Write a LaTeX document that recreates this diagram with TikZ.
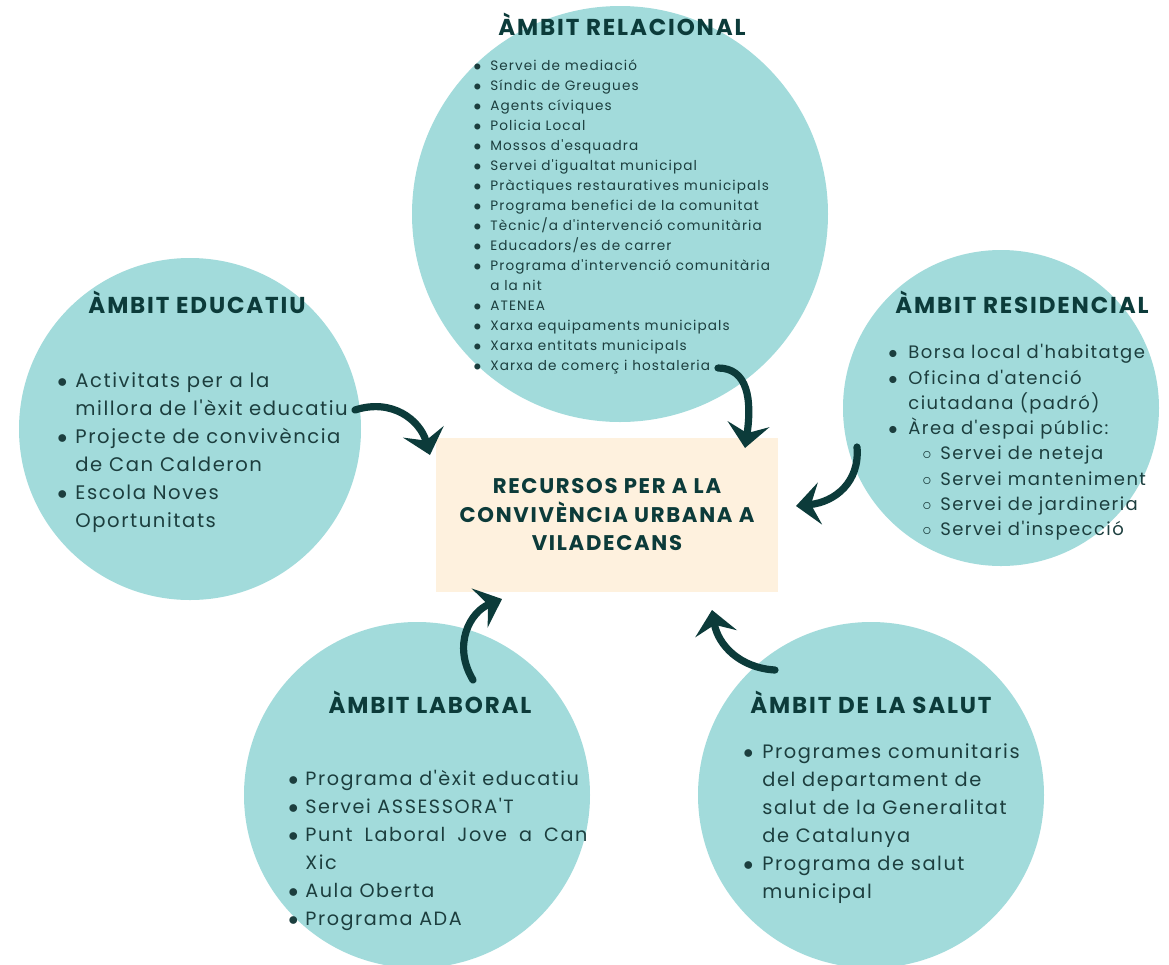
\documentclass[tikz,border=0pt]{standalone}
\usepackage{fontspec}
\setmainfont{Poppins}[LetterSpace=8, Ligatures=TeXOff]
\newfontfamily\headfont{Poppins}[LetterSpace=8, Ligatures=TeXOff]
\usetikzlibrary{arrows.meta}
\definecolor{circteal}{RGB}{162,219,219}
\definecolor{darkteal}{RGB}{12,59,58}
\definecolor{bodyteal}{RGB}{28,62,62}
\definecolor{boxcream}{RGB}{254,241,222}

\newlength\bulw
\setlength\bulw{9pt}
\newcommand\itm[1]{\makebox[\bulw][l]{$\bullet$}#1}
\newcommand\cnt[1]{\hspace*{\bulw}#1}
\newcommand\sub[1]{\hspace*{17pt}\makebox[9pt][l]{$\circ$}#1}

\begin{document}
\begin{tikzpicture}[x=0.5pt, y=-0.5pt,
  circ/.style={circle, fill=circteal, inner sep=0pt},
  ambit/.style={text=darkteal, anchor=base, inner sep=0pt, font=\headfont\bfseries\fontsize{11.5}{13}\selectfont},
  llista/.style={text=bodyteal, align=left, inner sep=0pt, anchor=north west},
  fletxa/.style={draw=darkteal, line width=3.6pt, line cap=round, -{Stealth[length=12pt,width=21pt,inset=4.5pt]}}]

% Background
\useasboundingbox (0,0) rectangle (1169,965);
\fill[white] (0,0) rectangle (1169,965);

% Circles
\node[circ, minimum size=208pt] (relacional) at (620,214) {};
\node[circ, minimum size=171pt] (educatiu) at (190,429) {};
\node[circ, minimum size=158pt] (residencial) at (1001,408) {};
\node[circ, minimum size=173pt] (laboral) at (417,795) {};
\node[circ, minimum size=173pt] (salut) at (871,795) {};

% Central box
\node[fill=boxcream, minimum width=171pt, minimum height=77pt, align=center,
      text=darkteal, font=\headfont\bfseries\fontsize{10.6}{14.25}\selectfont] (recursos) at (607,515)
  {RECURSOS PER A LA\\CONVIVÈNCIA URBANA A\\VILADECANS};

% Titles
\node[ambit] (t-relacional) at (622,35) {ÀMBIT RELACIONAL};
\node[ambit] (t-educatiu) at (197,313) {ÀMBIT EDUCATIU};
\node[ambit] (t-residencial) at (1022,313) {ÀMBIT RESIDENCIAL};
\node[ambit] (t-laboral) at (430,713) {ÀMBIT LABORAL};
\node[ambit] (t-salut) at (871,713) {ÀMBIT DE LA SALUT};

% Lists
\node[llista, font=\fontsize{6.8}{10}\selectfont\setlength\bulw{8.5pt}] (l-relacional) at (473,59) {%
  \itm{Servei de mediació}\\
  \itm{Síndic de Greugues}\\
  \itm{Agents cíviques}\\
  \itm{Policia Local}\\
  \itm{Mossos d'esquadra}\\
  \itm{Servei d'igualtat municipal}\\
  \itm{Pràctiques restauratives municipals}\\
  \itm{Programa benefici de la comunitat}\\
  \itm{Tècnic/a d'intervenció comunitària}\\
  \itm{Educadors/es de carrer}\\
  \itm{Programa d'intervenció comunitària}\\
  \cnt{a la nit}\\
  \itm{ATENEA}\\
  \itm{Xarxa equipaments municipals}\\
  \itm{Xarxa entitats municipals}\\
  \itm{Xarxa de comerç i hostaleria}};

\node[llista, font=\fontsize{9.8}{14}\selectfont\setlength\bulw{9pt}] (l-educatiu) at (57,372) {%
  \itm{Activitats per a la}\\
  \cnt{millora de l'èxit educatiu}\\
  \itm{Projecte de convivència}\\
  \cnt{de Can Calderon}\\
  \itm{Escola Noves}\\
  \cnt{Oportunitats}};

\node[llista, font=\fontsize{9}{12.65}\selectfont\setlength\bulw{10pt}] (l-residencial) at (888,344) {%
  \itm{Borsa local d'habitatge}\\
  \itm{Oficina d'atenció}\\
  \cnt{ciutadana (padró)}\\
  \itm{Àrea d'espai públic:}\\
  \sub{Servei de neteja}\\
  \sub{Servei manteniment}\\
  \sub{Servei de jardineria}\\
  \sub{Servei d'inspecció}};

\node[llista, font=\fontsize{9.6}{14}\selectfont\setlength\bulw{8.5pt}] (l-laboral) at (288,770) {%
  \itm{Programa d'èxit educatiu}\\
  \itm{Servei ASSESSORA'T}\\
  \itm{\makebox[141pt][s]{Punt Laboral Jove a Can}}\\
  \cnt{Xic}\\
  \itm{Aula Oberta}\\
  \itm{Programa ADA}};

\node[llista, font=\fontsize{9.7}{14}\selectfont\setlength\bulw{9.5pt}] (l-salut) at (743,743) {%
  \itm{Programes comunitaris}\\
  \cnt{del departament de}\\
  \cnt{salut de la Generalitat}\\
  \cnt{de Catalunya}\\
  \itm{Programa de salut}\\
  \cnt{municipal}};

% Arrow ends
\coordinate (relacional-ini) at (718,368);
\coordinate (relacional-fi) at (745,448);
\coordinate (educatiu-ini) at (355,410);
\coordinate (educatiu-fi) at (430,455);
\coordinate (residencial-ini) at (857,447);
\coordinate (residencial-fi) at (796,506);
\coordinate (laboral-ini) at (473,680);
\coordinate (laboral-fi) at (502,599);
\coordinate (salut-ini) at (775,670);
\coordinate (salut-fi) at (712,610);

% Arrows
\draw[fletxa] (relacional-ini) .. controls (748,368) and (752,400) .. (relacional-fi);
\draw[fletxa] (educatiu-ini) .. controls (392,398) and (420,420) .. (educatiu-fi);
\draw[fletxa] (residencial-ini) .. controls (860,482) and (835,502) .. (residencial-fi);
\draw[fletxa] (laboral-ini) .. controls (452,645) and (470,612) .. (laboral-fi);
\draw[fletxa] (salut-ini) .. controls (740,668) and (718,645) .. (salut-fi);

\end{tikzpicture}
\end{document}
